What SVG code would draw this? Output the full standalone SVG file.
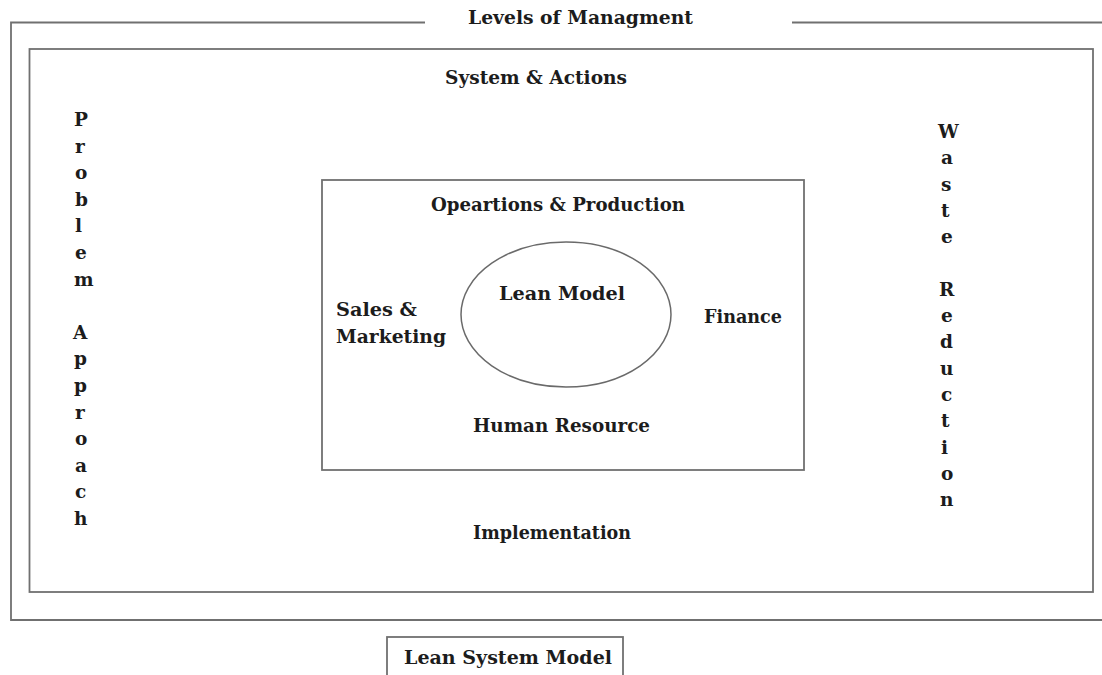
<svg xmlns="http://www.w3.org/2000/svg" width="1102" height="675" viewBox="0 0 1102 675">
  <style>
    .frame { fill: none; stroke: #707070; stroke-width: 1.8; }
    .lbl { font-family: "DejaVu Serif", "Liberation Serif", serif; font-weight: bold; font-size: 18.5px; fill: #1c1c1c; }
  </style>
  <rect width="1102" height="675" fill="#ffffff"/>

  <!-- outer frame: Levels of Managment (title breaks the top edge) -->
  <g id="levels">
    <path class="frame" d="M425,22.5 H11 V620 H1104"/>
    <path class="frame" d="M792,22.5 H1104"/>
    <text class="lbl" x="468" y="24" textLength="225" lengthAdjust="spacingAndGlyphs">Levels of Managment</text>
  </g>

  <!-- second frame: System & Actions -->
  <g id="system">
    <rect class="frame" x="29.5" y="49" width="1063.5" height="543"/>
    <text class="lbl" x="445" y="84" textLength="182" lengthAdjust="spacingAndGlyphs">System &amp; Actions</text>
    <text class="lbl" x="473" y="539" textLength="158" lengthAdjust="spacingAndGlyphs">Implementation</text>
  </g>

  <!-- vertical side labels -->
  <g id="problem-approach">
    <text class="lbl">
      <tspan x="74" y="126">P</tspan><tspan x="75" dy="26.6">r</tspan><tspan x="75" dy="26.6">o</tspan><tspan x="75" dy="26.6">b</tspan><tspan x="75" dy="26.6">l</tspan><tspan x="75" dy="26.6">e</tspan><tspan x="74" dy="26.6">m</tspan>
      <tspan x="73" dy="53.2">A</tspan><tspan x="74" dy="26.6">p</tspan><tspan x="74" dy="26.6">p</tspan><tspan x="75" dy="26.6">r</tspan><tspan x="75" dy="26.6">o</tspan><tspan x="75" dy="26.6">a</tspan><tspan x="75" dy="26.6">c</tspan><tspan x="74" dy="26.6">h</tspan>
    </text>
  </g>
  <g id="waste-reduction">
    <text class="lbl">
      <tspan x="938" y="138">W</tspan><tspan x="941" dy="26.3">a</tspan><tspan x="941" dy="26.3">s</tspan><tspan x="941" dy="26.3">t</tspan><tspan x="941" dy="26.3">e</tspan>
      <tspan x="939" dy="52.6">R</tspan><tspan x="941" dy="26.3">e</tspan><tspan x="940" dy="26.3">d</tspan><tspan x="940" dy="26.3">u</tspan><tspan x="941" dy="26.3">c</tspan><tspan x="941" dy="26.3">t</tspan><tspan x="941" dy="26.3">i</tspan><tspan x="941" dy="26.3">o</tspan><tspan x="940" dy="26.3">n</tspan>
    </text>
  </g>

  <!-- inner frame: functional areas -->
  <g id="functions">
    <rect class="frame" x="322" y="180" width="482" height="290"/>
    <text class="lbl" x="431" y="211" textLength="254" lengthAdjust="spacingAndGlyphs">Opeartions &amp; Production</text>
    <text class="lbl" x="336" y="316" textLength="81" lengthAdjust="spacingAndGlyphs">Sales &amp;</text>
    <text class="lbl" x="336" y="343" textLength="110" lengthAdjust="spacingAndGlyphs">Marketing</text>
    <text class="lbl" x="704" y="323" textLength="78" lengthAdjust="spacingAndGlyphs">Finance</text>
    <text class="lbl" x="473" y="432" textLength="177" lengthAdjust="spacingAndGlyphs">Human Resource</text>
  </g>

  <!-- core -->
  <g id="lean-model">
    <ellipse cx="566" cy="314.5" rx="105" ry="72.5" fill="none" stroke="#6a6a6a" stroke-width="1.5"/>
    <text class="lbl" x="499" y="300" textLength="126" lengthAdjust="spacingAndGlyphs">Lean Model</text>
  </g>

  <!-- caption box -->
  <g id="caption">
    <rect class="frame" x="387" y="637" width="236" height="45"/>
    <text class="lbl" x="404" y="664" textLength="208" lengthAdjust="spacingAndGlyphs">Lean System Model</text>
  </g>

  <g id="connectors"/>
</svg>
